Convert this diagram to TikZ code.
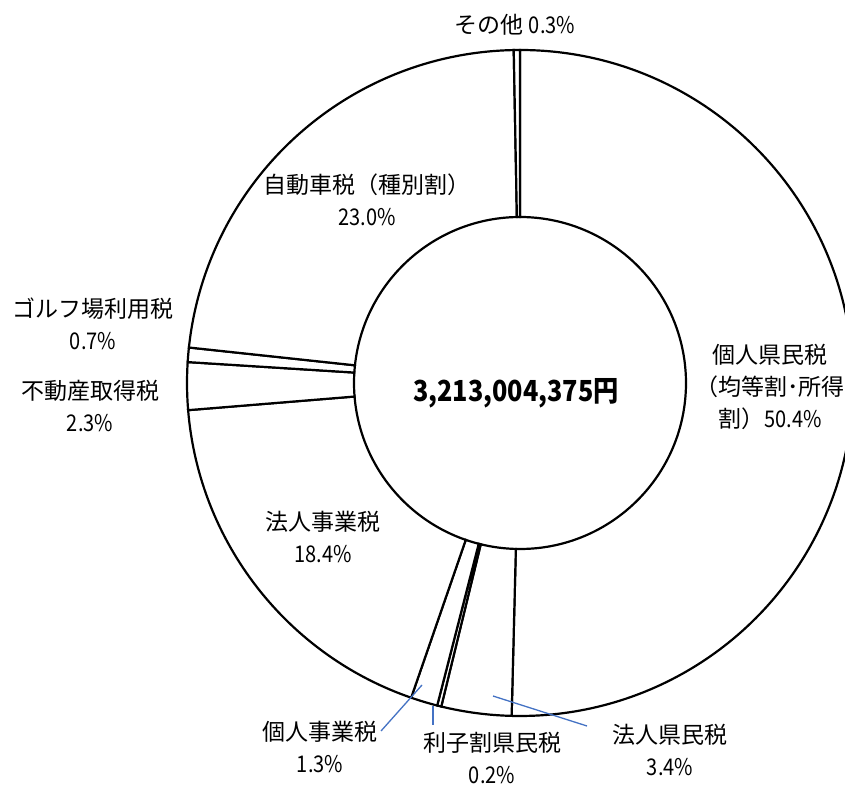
\documentclass[tikz,border=0pt]{standalone}
\usepackage{fontspec}
\setmainfont{Noto Sans CJK JP}
\newfontfamily\nf[FakeStretch=0.87]{Noto Sans CJK JP}
\usetikzlibrary{calc}
\definecolor{leadblue}{RGB}{68,114,196}
\begin{document}
\begin{tikzpicture}[x=1pt,y=1pt,
  slice/.style={draw=black,line width=2.2pt,fill=white,line join=miter},
  lead/.style={draw=leadblue,line width=1.3pt},
  lbl/.style={font=\fontsize{23}{32}\selectfont,align=center,inner sep=0pt},
  total/.style={font=\fontsize{29}{32}\selectfont\bfseries\nf,inner sep=0pt}]
\fill[white] (0,0) rectangle (845,785);
\path[use as bounding box] (0,0) rectangle (845,785);
\begin{scope}
\clip (0,0) rectangle (845,785);
\coordinate (c) at (520,402);
\def\Ro{333}\def\Ri{166}
\foreach \a/\b in {0/50.4,50.4/53.8,53.8/54.0,54.0/55.3,55.3/73.7,73.7/76.0,76.0/76.7,76.7/99.7,99.7/100}{
  \pgfmathsetmacro\sa{90-3.6*\a}
  \pgfmathsetmacro\ea{90-3.6*\b}
  \draw[slice] ($(c)+(\sa:\Ro)$) arc[start angle=\sa,end angle=\ea,radius=\Ro]
     -- ($(c)+(\ea:\Ri)$) arc[start angle=\ea,end angle=\sa,radius=\Ri] -- cycle;
}
\end{scope}
\node[total] (tot) at (516,392) {3,213,004,375円};
\node[lbl] (sonota) at (515,760) {その他 {\nf 0.3\%}};
\node[lbl] (jidosha) at (367,585.5) {自動車税（種別割）\\{\nf 23.0\%}};
\node[lbl] (golf) at (93,461.5) {ゴルフ場利用税\\{\nf 0.7\%}};
\node[lbl] (fudosan) at (90,379) {不動産取得税\\{\nf 2.3\%}};
\node[lbl] (hojinji) at (323,248.5) {法人事業税\\{\nf 18.4\%}};
\node[lbl] (kojinji) at (320,38.5) {個人事業税\\{\nf 1.3\%}};
\node[lbl] (rishi) at (492,27) {利子割県民税\\{\nf 0.2\%}};
\node[lbl] (kojinken) at (770,398.5) {個人県民税\\（均等割･所得\\割）{\nf 50.4\%}};
\node[lbl] (hojinken) at (670,35.5) {法人県民税\\{\nf 3.4\%}};
\coordinate (k1) at (422,100);
\coordinate (r1) at (433,79);
\coordinate (h1) at (493,89);
\coordinate (k2) at (381,54);
\coordinate (r2) at (433,60);
\coordinate (h2) at (587,59);
\draw[lead] (k1) -- (k2);
\draw[lead] (r1) -- (r2);
\draw[lead] (h1) -- (h2);
\end{tikzpicture}
\end{document}
